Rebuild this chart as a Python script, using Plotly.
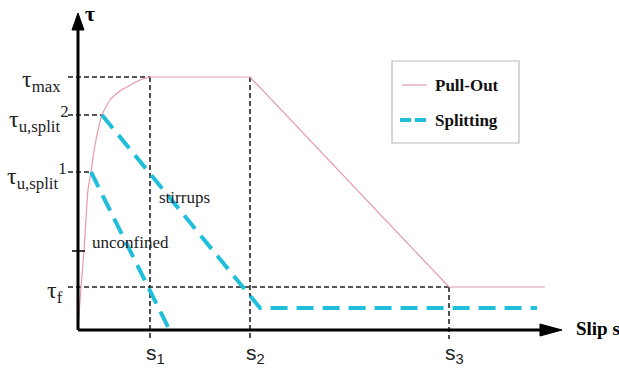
import plotly.graph_objects as go

# ---- data (units: slip / stress in chart units) ----
s_names = ["s<sub>1</sub>", "s<sub>2</sub>", "s<sub>3</sub>"]
s_vals = [72, 172, 371]
tau_names = ["τ<sub>max</sub>", "τ<sub>u,split</sub><sup>2</sup>", "τ<sub>u,split</sub><sup>1</sup>", "τ<sub>f</sub>"]
tau_max, tau_split2, tau_split1, tau_f = 253, 215, 158, 43
tau_tick = 79

pull_curve_s = [0, 3, 6, 10, 13, 17, 24, 32, 42, 49, 62, 72]
pull_curve_tau = [0, 43, 79, 140, 158, 185, 215, 230, 239, 243, 250, 253]
pull_lin_s = [72, 172, 371, 467]
pull_lin_tau = [253, 253, 43, 43]

split1_s = [13, 90]
split1_tau = [158, 3]
split2_s = [24, 182, 459]
split2_tau = [215, 22, 22]

PINK = "#e49aa8"
CYAN = "#1fbfdb"
SERIF = "Liberation Serif"
SANS = "Liberation Sans"

fig = go.Figure()
fig.add_trace(go.Scatter(x=pull_curve_s, y=pull_curve_tau, mode="lines",
                         line=dict(color=PINK, width=1.2, shape="spline", smoothing=0.6),
                         name="Pull-Out", showlegend=False, hoverinfo="skip"))
fig.add_trace(go.Scatter(x=pull_lin_s, y=pull_lin_tau, mode="lines",
                         line=dict(color=PINK, width=1.2),
                         name="Pull-Out", showlegend=False))
for xs, ys in [(split1_s, split1_tau), (split2_s, split2_tau)]:
    fig.add_trace(go.Scatter(x=xs, y=ys, mode="lines",
                             line=dict(color=CYAN, width=4, dash="17px,9px"),
                             name="Splitting", showlegend=False))

shapes = []
dash_k = dict(color="#222", width=1.6, dash="5px,3px")
# horizontal reference lines
for tv, xe in [(tau_max, s_vals[0]), (tau_split2, pull_curve_s[6]), (tau_split1, pull_curve_s[4]), (tau_f, s_vals[2])]:
    shapes.append(dict(type="line", x0=-10, x1=xe, y0=tv, y1=tv, line=dash_k, layer="below"))
# vertical reference lines
for sv, y0 in [(s_vals[0], tau_max), (s_vals[1], tau_max), (s_vals[2], tau_f)]:
    shapes.append(dict(type="line", x0=sv, x1=sv, y0=y0, y1=-9, line=dash_k, layer="below"))
# unlabeled tick
shapes.append(dict(type="line", x0=-6, x1=7, y0=tau_tick, y1=tau_tick, line=dict(color="#111", width=1.6)))
# axes
shapes.append(dict(type="line", x0=0, x1=0, y0=0, y1=302, line=dict(color="#000", width=3)))
shapes.append(dict(type="line", x0=0, x1=464, y0=0, y1=0, line=dict(color="#000", width=3)))
shapes.append(dict(type="path", path="M -6,300 L 0,317 L 6,300 Z", fillcolor="#000", line=dict(color="#000", width=1)))
shapes.append(dict(type="path", path="M 462,-6 L 484,0 L 462,6 Z", fillcolor="#000", line=dict(color="#000", width=1)))
# legend box
shapes.append(dict(type="rect", xref="paper", yref="paper",
                   x0=392/619, x1=519/619, y0=1-143/369, y1=1-61/369,
                   line=dict(color="#bbb", width=1.2), fillcolor="white"))
shapes.append(dict(type="line", xref="paper", yref="paper", x0=402/619, x1=427/619,
                   y0=1-85/369, y1=1-85/369, line=dict(color=PINK, width=1.2)))
shapes.append(dict(type="line", xref="paper", yref="paper", x0=400/619, x1=430/619,
                   y0=1-120/369, y1=1-120/369, line=dict(color=CYAN, width=4, dash="11px,4px")))

ann = []
# y-axis tick labels
tau_vals = [tau_max, tau_split2, tau_split1, tau_f]
tau_dy = [-4, -4, -4, -5]
tau_xr = [-15, -7, -9, -13]
for name, tv, dy, xr in zip(tau_names, tau_vals, tau_dy, tau_xr):
    ann.append(dict(x=xr, y=tv + dy, text=name, showarrow=False, xanchor="right", yanchor="middle",
                    font=dict(family=SERIF, size=24, color="#222")))
# x-axis tick labels
for name, sv in zip(s_names, s_vals):
    ann.append(dict(x=sv + 5, y=-24, text=name, showarrow=False, xanchor="center", yanchor="middle",
                    font=dict(family=SANS, size=21, color="#222")))
ann.append(dict(x=12, y=317, text="<b>τ</b>", showarrow=False, xanchor="center", yanchor="middle",
                font=dict(family=SERIF, size=22, color="#000")))
ann.append(dict(x=496, y=2, text="<b>Slip s</b>", showarrow=False, xanchor="left", yanchor="middle",
                font=dict(family=SERIF, size=19, color="#000")))
ann.append(dict(x=12, y=88, text="unconfined", showarrow=False, xanchor="left", yanchor="middle",
                font=dict(family=SERIF, size=17, color="#222")))
ann.append(dict(x=79, y=133, text="stirrups", showarrow=False, xanchor="left", yanchor="middle",
                font=dict(family=SERIF, size=17, color="#222")))
ann.append(dict(x=433/619, y=1-85/369, xref="paper", yref="paper", text="<b>Pull-Out</b>", showarrow=False,
                xanchor="left", yanchor="middle", font=dict(family=SERIF, size=17, color="#111")))
ann.append(dict(x=433/619, y=1-120/369, xref="paper", yref="paper", text="<b>Splitting</b>", showarrow=False,
                xanchor="left", yanchor="middle", font=dict(family=SERIF, size=17, color="#111")))

fig.update_layout(
    width=619, height=369, margin=dict(l=0, r=0, t=0, b=0),
    paper_bgcolor="white", plot_bgcolor="white",
    xaxis=dict(range=[-78, 541], visible=False, fixedrange=True),
    yaxis=dict(range=[-39, 330], visible=False, fixedrange=True),
    shapes=shapes, annotations=ann, showlegend=False,
)
fig.write_html("out.html")
